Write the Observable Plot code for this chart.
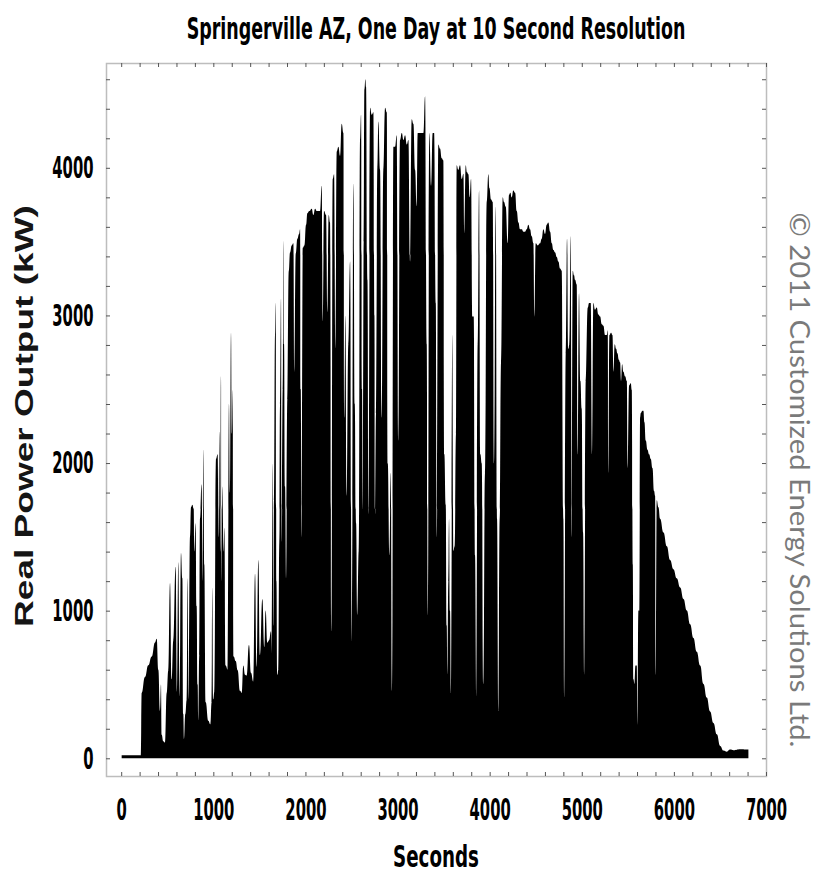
<!DOCTYPE html>
<html><head><meta charset="utf-8">
<script src="https://cdn.jsdelivr.net/npm/d3@7"></script>
<script src="https://cdn.jsdelivr.net/npm/@observablehq/plot@0.6"></script>
<style>
body{margin:0;background:#fff;}
#chart{width:823px;height:873px;}
</style></head><body><div id="chart"></div>
<script>
// Time (seconds) and real power output (kW)
const seconds = [5,215,222,258,294,331,367,385,403,421,432,439,457,475,494,512,530,548,566,591,606,620,635,649,664,674,682,696,711,722,732,747,758,772,787,794,808,819,830,837,848,855,873,884,892,902,917,946,968,982,989,1000,1011,1029,1047,1058,1065,1076,1083,1091,1098,1112,1120,1134,1156,1170,1181,1192,1203,1210,1221,1243,1264,1290,1308,1326,1344,1362,1387,1409,1434,1453,1471,1489,1507,1532,1554,1568,1587,1605,1626,
1634,1645,1652,1659,1670,1678,1685,1696,1706,1717,1725,1735,1743,1754,1761,1768,1779,1790,1804,1819,1833,1851,1869,1880,1895,1913,1931,1942,1949,1960,1971,1989,2007,2021,2043,2068,2086,2105,2123,2141,2159,2177,2188,2202,2224,2238,2253,2267,2282,2296,2311,2325,2340,2358,2376,2394,2412,2423,2434,2448,2466,2485,2503,2521,2535,2550,2564,2579,2593,2604,2615,2622,2633,2640,2651,2658,2673,2687,2702,2720,2738,2749,2756,2767,2781,2792,2810,2828,2846,2865,2883,2894,2912,2926,2941,2955,2973,2991,3009,3027,3046,3064,3082,3100,3118,3136,3154,3172,3190,3208,3219,3237,3263,3281,3299,3317,3328,3346,3364,3382,3397,3415,3426,
3443,3461,3479,3497,3508,3523,3534,3541,3552,3559,3570,3581,3595,3606,3620,3635,3642,3660,3678,3697,3715,3725,3740,3754,3769,3783,3798,3812,3827,3841,3856,3870,3885,3899,3914,3932,3950,3968,3986,3997,4015,4033,4048,4066,4080,4095,4109,4124,4142,4156,4174,4196,4210,4225,4239,4257,4276,4294,4312,4330,4348,4366,4384,4402,4420,4438,4456,4475,4485,4500,4522,4547,4565,4583,4601,4619,4637,4656,4674,4692,4710,4728,4746,4764,4782,4800,4811,4826,4840,4855,4865,4880,4891,4902,4916,4927,4945,4956,4970,4985,4999,5014,5028,5043,5065,5079,5097,5112,5126,5144,5162,5180,
5199,5217,5235,5253,5271,5282,5289,5300,5318,5333,5344,5358,5373,5387,5402,5416,5427,5438,5452,5470,5489,5499,5514,5532,5543,5554,5561,5572,5583,5597,5604,5615,5626,5633,5641,5659,5669,5680,5695,5713,5731,5749,5767,5785,5796,5803,5814,5832,5850,5887,5923,5959,5995,6031,6068,6104,6140,6176,6212,6248,6285,6321,6357,6393,6429,6466,6502,6538,6574,6610,6647,6719,6809];
const powerKW = [20,20,442,550,630,690,785,810,600,320,500,160,115,106,442,597,1188,535,800,1297,450,1328,420,1390,1219,300,130,300,395,1219,400,1500,1700,1717,1690,1400,1592,1032,500,255,700,1623,1857,1200,2090,1312,380,255,230,380,1157,400,450,2028,2059,1500,2214,1400,2588,1200,1841,1400,1561,628,600,2401,1800,2883,2200,2494,690,659,597,457,442,628,566,560,768,580,520,1250,620,1343,700,1079,752,1001,783,800,861,
700,1997,900,1748,2867,3085,1200,566,600,1468,2401,3116,1468,2500,3505,2805,1841,1219,2432,3300,3427,3474,3489,2619,3420,3520,3552,3583,2500,1499,3458,3474,3614,3692,3707,3723,3680,3723,3707,3707,3707,3878,2961,3707,3680,3023,3680,3630,861,3925,3956,2774,4111,4142,4080,4298,4236,2308,3000,1779,2805,3365,784,3894,2401,1592,970,1406,4189,4360,2500,1686,3500,4531,4600,4547,3241,1655,4407,4360,4376,3000,1655,2339,4000,4313,3987,2308,3987,4407,4376,1997,1375,1934,457,4142,4142,4220,2152,4189,4236,4189,4220,4158,4189,3365,4329,4298,3987,3738,4236,4236,4236,4236,4485,2805,970,4236,3878,4236,4236,3085,1499,
4158,4130,4065,4050,2059,1717,900,566,1200,1623,1000,442,2867,1406,1437,2200,4018,3987,4018,3925,3960,3552,4018,3970,3956,3800,3925,2992,2992,1375,411,2805,3847,2059,1997,504,1934,3769,3956,3863,3785,3769,1997,3738,1623,317,1623,2681,3800,3769,3738,3489,3816,3831,3800,3847,3831,3707,3629,3583,3583,3567,3567,3583,3614,3583,3536,3489,2992,3489,3474,3489,3520,3583,3552,3614,3629,3567,3489,3443,3427,3396,3365,3318,3303,1623,411,2743,3520,2774,2805,3536,1499,3303,3272,3241,3210,2059,3150,2556,2370,1530,566,2556,3054,3085,3085,2059,3085,3039,3054,3007,
2992,2940,2930,2867,2867,2899,1934,2867,2883,2867,2619,2805,2774,2743,2700,2681,2556,2670,2619,2588,2556,1966,2525,2540,2494,1312,535,504,628,628,224,1001,1001,2308,2339,2354,2354,2277,2152,2090,2059,2028,1966,1810,1779,566,1748,1701,1623,1530,1437,1343,1281,1219,1157,1079,1001,908,815,721,628,504,411,317,239,162,84,53,45,60,55,62,60];

const xTickValues = [0, 1000, 2000, 3000, 4000, 5000, 6000, 7000];
const yTickValues = [0, 1000, 2000, 3000, 4000];
const xMinorTicks = d3.range(0, 7001, 200);
const yMinorTicks = d3.range(0, 4701, 200);

const data = seconds.map((s, i) => ({s, kw: powerKW[i]}));

const W = 823, H = 873, ML = 106, MR = 57, MT = 63, MB = 97;
const innerW = W - ML - MR, innerH = H - MT - MB;
const NARROW = "'Liberation Sans Narrow','DejaVu Sans Condensed','Liberation Sans',sans-serif";

const svg = Plot.plot({
  width: W, height: H,
  marginLeft: ML, marginRight: MR, marginTop: MT, marginBottom: MB,
  style: {background: "#fff", color: "#000", fontFamily: NARROW},
  x: {domain: [-165, 7000], ticks: xTickValues, tickSize: 0, tickPadding: 21, tickFormat: d3.format("d"), label: null},
  y: {domain: [-120, 4710], ticks: yTickValues, tickSize: 0, tickPadding: 13, tickFormat: d3.format("d"), label: null},
  marks: [
    Plot.areaY(data, {x: "s", y: "kw", fill: "#000", curve: "bump-x"}),
    Plot.frame({stroke: "#bdbdbd", strokeWidth: 1.5}),
    Plot.tickX(xMinorTicks, {x: d => d, insetTop: innerH - 4, stroke: "#555"}),
    Plot.tickX(xMinorTicks, {x: d => d, insetBottom: innerH - 4, stroke: "#555"}),
    Plot.tickY(yMinorTicks, {y: d => d, insetRight: innerW - 4, stroke: "#555"}),
    Plot.tickY(yMinorTicks, {y: d => d, insetLeft: innerW - 4, stroke: "#555"})
  ]
});
document.getElementById("chart").append(svg);

const s = d3.select(svg);
s.selectAll('g[aria-label^="x-axis"] text, g[aria-label^="y-axis"] text')
  .style("font", `bold 31px ${NARROW}`)
  .style("fill", "#000")
  .attr("textLength", function() { return this.textContent.length * 10.3; })
  .attr("lengthAdjust", "spacingAndGlyphs");

// add a text, squeezed horizontally (by a transform) to the width seen in the reference
function addText(txt, o) {
  const t = s.append("text")
    .attr("text-anchor", "middle")
    .style("font", `${o.weight} ${o.size}px ${o.family}`)
    .style("fill", o.fill || "#000")
    .text(txt);
  const w = t.node().getComputedTextLength() || o.len;
  t.attr("transform", `translate(${o.x},${o.y}) rotate(${o.rotate || 0}) scale(${o.len / w},1)`);
}
addText("Springerville AZ, One Day at 10 Second Resolution", {x: 436, y: 39, size: 30, weight: "bold", family: NARROW, len: 499});
addText("Seconds", {x: 436, y: 867, size: 31, weight: "bold", family: NARROW, len: 86});
addText("Real Power Output (kW)", {x: 33, y: 416, rotate: -90, size: 25, weight: "bold", family: "'Liberation Sans',Arial,sans-serif", len: 422, fill: "#151515"});
addText("© 2011 Customized Energy Solutions Ltd.", {x: 790, y: 480, rotate: 90, size: 27, weight: "normal", family: "Lato,'Open Sans',sans-serif", len: 535, fill: "#7a7a7a"});
</script></body></html>
